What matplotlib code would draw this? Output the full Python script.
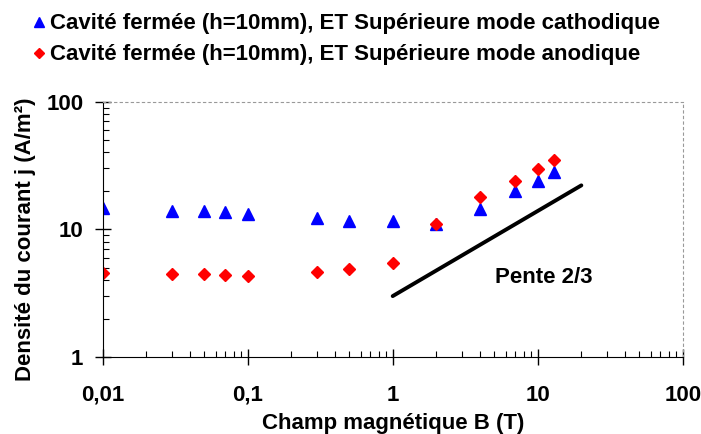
import numpy as np
import matplotlib
matplotlib.use("Agg")
import matplotlib.pyplot as plt
from matplotlib.ticker import LogLocator, NullFormatter

plt.rcParams['font.family'] = ['Liberation Sans', 'DejaVu Sans']
plt.rcParams['font.weight'] = 'bold'

# data
b_cath = [0.01, 0.03, 0.05, 0.07, 0.1, 0.3, 0.5, 1, 2, 4, 7, 10, 13]
j_cath = [14.7, 13.8, 13.8, 13.6, 13.3, 12.3, 11.6, 11.6, 11.0, 14.5, 19.8, 23.9, 27.9]
b_anod = [0.01, 0.03, 0.05, 0.07, 0.1, 0.3, 0.5, 1, 2, 4, 7, 10, 13]
j_anod = [4.53, 4.45, 4.45, 4.37, 4.31, 4.64, 4.89, 5.45, 11.1, 17.9, 23.9, 29.7, 35.0]
slope_b = [1, 20]
slope_j = [3.0, 3.0 * 20 ** (2 / 3)]

xticks = [0.01, 0.1, 1, 10, 100]
xlabels = ["0,01", "0,1", "1", "10", "100"]
yticks = [1, 10, 100]
ylabels = ["1", "10", "100"]

fs = 16

fig = plt.figure(figsize=(7.01, 4.34), dpi=100)
ax = fig.add_axes([0.1465, 0.1774, 0.8274, 0.5883])

ax.plot(b_cath, j_cath, linestyle='none', marker='^', color='#0000ff',
        markersize=8.5, label="Cavité fermée (h=10mm), ET Supérieure mode cathodique")
ax.plot(b_anod, j_anod, linestyle='none', marker='D', color='#ff0000',
        markersize=6, label="Cavité fermée (h=10mm), ET Supérieure mode anodique")
ax.plot(slope_b, slope_j, color='black', linewidth=2.8, solid_capstyle='round')
ax.text(11, 4.16, "Pente 2/3", ha='center', va='center', fontsize=fs, fontweight='bold')

ax.set_xscale('log')
ax.set_yscale('log')
ax.set_xlim(0.01, 100)
ax.set_ylim(1, 100)
ax.set_xticks(xticks, xlabels)
ax.set_yticks(yticks, ylabels)
ax.xaxis.set_minor_locator(LogLocator(base=10, subs=np.arange(2, 10)))
ax.yaxis.set_minor_locator(LogLocator(base=10, subs=np.arange(2, 10)))
ax.xaxis.set_minor_formatter(NullFormatter())
ax.yaxis.set_minor_formatter(NullFormatter())
ax.tick_params(which='major', direction='inout', length=12, width=1, labelsize=fs)
ax.tick_params(axis='x', which='major', pad=14)
ax.tick_params(axis='y', which='major', pad=8)
ax.tick_params(which='minor', direction='in', length=4.5, width=0.8)

for side in ['top', 'right']:
    ax.spines[side].set_linestyle((0, (2, 3)))
    ax.spines[side].set_color('#999999')
    ax.spines[side].set_linewidth(0.8)

ax.set_xlabel("Champ magnétique B (T)", fontsize=fs, fontweight='bold', labelpad=5)
ax.set_ylabel("Densité du courant j (A/m²)", fontsize=fs, fontweight='bold')
ax.yaxis.set_label_coords(-0.115, 0.46)

fig.legend(loc='upper left', bbox_to_anchor=(0.025, 1.0), frameon=False,
           fontsize=fs, handlelength=0.7, handletextpad=0.17, labelspacing=0.45,
           borderaxespad=0.2, markerscale=0.8)

fig.savefig("out.png", dpi=100)
